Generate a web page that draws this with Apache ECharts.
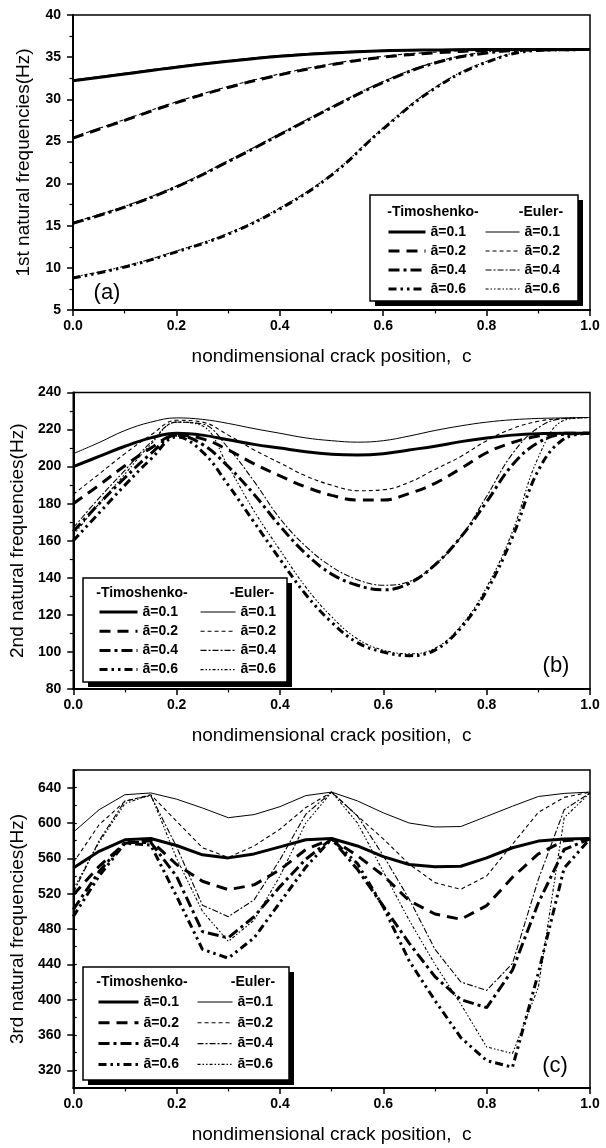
<!DOCTYPE html>
<html>
<head>
<meta charset="utf-8">
<script src="https://cdn.jsdelivr.net/npm/echarts@6/dist/echarts.min.js"></script>
<style>
  html, body { margin: 0; padding: 0; background: #fff; }
  #chart { width: 606px; height: 1148px; }
</style>
</head>
<body>
<div id="chart"></div>
<script>
// crack positions
const posA = [0, 0.1, 0.2, 0.3, 0.4, 0.5, 0.6, 0.7, 0.8, 0.9, 1.0]
const posBC = [0, 0.05, 0.1, 0.15, 0.2, 0.25, 0.3, 0.35, 0.4, 0.45, 0.5,
  0.55, 0.6, 0.65, 0.7, 0.75, 0.8, 0.85, 0.9, 0.95, 1.0]

// (a) 1st natural frequency
const a_T01 = [32.2, 33.0, 33.8, 34.5, 35.1, 35.5, 35.75, 35.85, 35.9, 35.9, 35.9]
const a_T02 = [25.4, 27.5, 29.6, 31.4, 32.9, 34.1, 35.0, 35.5, 35.8, 35.9, 35.9]
const a_T04 = [15.3, 17.2, 19.6, 22.6, 25.8, 29.0, 32.0, 34.3, 35.5, 35.85, 35.9]
const a_T06 = [8.8, 10.1, 11.9, 14.0, 17.0, 21.0, 26.5, 31.3, 34.4, 35.8, 35.9]
const a_E01 = [32.3, 33.1, 33.9, 34.6, 35.2, 35.6, 35.8, 35.9, 35.95, 35.95, 35.95]
const a_E02 = [25.5, 27.6, 29.7, 31.5, 33.0, 34.2, 35.1, 35.6, 35.85, 35.95, 35.95]
const a_E04 = [15.4, 17.3, 19.7, 22.7, 25.9, 29.1, 32.1, 34.4, 35.6, 35.9, 35.95]
const a_E06 = [8.9, 10.2, 12.0, 14.1, 17.1, 21.1, 26.6, 31.4, 34.5, 35.85, 35.95]

// (b) 2nd natural frequency
const b_T01 = [200, 205.5, 211, 215.5, 218, 217, 214.5, 212, 210, 208, 206.7,
  206.3, 207, 209, 211, 213.5, 215.5, 217, 217.8, 218, 218]
const b_T02 = [180, 190, 200.5, 210, 217, 215, 209, 201.5, 195, 189, 184.5,
  182, 182, 185.5, 191, 199, 207.5, 213, 216.5, 218, 218]
const b_T04 = [165, 180, 194, 207, 217, 212, 200, 185, 168, 153, 142,
  136, 133.5, 137, 147, 162, 181, 201, 213, 217.5, 218]
const b_T06 = [160, 175, 190, 204, 216, 208, 190, 170, 150, 131, 116,
  105, 100, 98, 101, 113, 133, 162, 198, 215, 218]
const b_E01 = [207, 213, 219.5, 224, 226.3, 225.5, 223.3, 220.5, 218, 215.5, 214,
  213.2, 214, 216.5, 219.5, 222, 224, 225.3, 226, 226.3, 226.5]
const b_E02 = [185, 196, 207, 217, 225, 224, 217, 209, 202, 195, 190,
  187, 187.5, 191.5, 198.5, 205.5, 214, 220.5, 224.5, 226, 226.5]
const b_E04 = [167, 183, 198, 213, 224, 223, 210, 192, 172, 157, 146,
  139, 136, 138, 147, 162, 184, 207, 221, 226, 226.5]
const b_E06 = [163, 180, 196, 212, 224, 222, 200, 176, 155, 135, 119,
  107, 101, 99, 102, 114, 135, 165, 205, 225, 226.5]

// (c) 3rd natural frequency
const c_T01 = [549, 568, 581, 582.5, 574.5, 564, 560.5, 565, 573, 581, 582.5,
  574, 562, 553, 550.5, 551, 560.5, 572, 579.5, 582, 582.5]
const c_T02 = [518.5, 551, 577, 580, 553, 534, 524.5, 530, 547, 570, 582,
  563, 540.5, 512, 497, 491, 506.5, 538.5, 565, 580, 582]
const c_T04 = [502, 545, 578, 578, 539.5, 477, 470, 494, 528, 559, 582,
  547.5, 506, 464, 426, 400, 391, 433.5, 509.5, 570, 582]
const c_T06 = [494, 540, 577, 575, 517, 457, 447, 470, 510, 550, 582,
  554, 505, 444, 399, 357, 331, 323.5, 430, 549, 582]
const c_E01 = [589.5, 615, 632, 634, 627, 617, 606, 609.5, 618.5, 631, 635,
  625, 611.5, 600, 595.5, 596, 607.5, 619, 630, 633.5, 635]
const c_E02 = [555, 598, 624.5, 632, 602, 572, 561, 574, 593, 617.5, 635,
  608, 582, 553.5, 532.5, 525, 540, 576, 612, 629, 635]
const c_E04 = [521, 580, 625, 631, 573, 507, 494, 513, 558.5, 610, 635,
  608, 563, 514, 457, 420, 410.5, 441, 536, 615, 634]
const c_E06 = [525, 578, 622, 632, 560, 500, 466, 490, 540, 600, 635,
  600, 545, 490, 440, 395, 346.5, 339, 414, 606, 634]

const ratios = ['0.1', '0.2', '0.4', '0.6']
const cMajorTicks = [320, 360, 400, 440, 480, 520, 560, 600, 640]
const yTitles = ['1st natural frequencies(Hz)', '2nd natural frequencies(Hz)', '3rd natural frequencies(Hz)']
const panelTags = ['(a)', '(b)', '(c)']

const FONT = '"Liberation Sans", Arial, sans-serif'

const tStyles = [
  { width: 3, type: 'solid' },
  { width: 3, type: [11, 7] },
  { width: 3, type: [11, 4, 3, 4] },
  { width: 3, type: [8, 4, 2.5, 4, 2.5, 4] }
]
const eStyles = [
  { width: 1, type: 'solid' },
  { width: 1.1, type: [4, 3] },
  { width: 1.1, type: [6, 2, 2, 2] },
  { width: 1.1, type: [3, 2, 1.5, 2, 1.5, 2] }
]

// layout of the three panels
const panels = [
  { top: 15, height: 295, smooth: true, pos: posA,
    T: [a_T01, a_T02, a_T04, a_T06], E: [a_E01, a_E02, a_E04, a_E06],
    box: { x: 370, y: 195, w: 208, h: 106 },
    tLeg: { left: 387, w: 37 }, eLeg: { left: 485, w: 34 },
    headY: 212, tHead: 433, eHead: 541, rowTop: 225, rowGap: 19,
    tag: { x: 107, y: 293 } },
  { top: 392.5, height: 296.5, smooth: true, pos: posBC,
    T: [b_T01, b_T02, b_T04, b_T06], E: [b_E01, b_E02, b_E04, b_E06],
    box: { x: 83, y: 578, w: 204, h: 104 },
    tLeg: { left: 98, w: 38 }, eLeg: { left: 200, w: 35 },
    headY: 593, tHead: 142, eHead: 252, rowTop: 605, rowGap: 19.2,
    tag: { x: 556, y: 666 } },
  { top: 770, height: 318, smooth: false, pos: posBC,
    T: [c_T01, c_T02, c_T04, c_T06], E: [c_E01, c_E02, c_E04, c_E06],
    box: { x: 83, y: 967, w: 206, h: 113 },
    tLeg: { left: 97, w: 40 }, eLeg: { left: 197, w: 35 },
    headY: 982, tHead: 142, eHead: 253, rowTop: 995, rowGap: 20.8,
    tag: { x: 555, y: 1066 } }
]

const pairs = (xs, ys) => xs.map((x, i) => [x, ys[i]])
const sname = (p, kind, r) => `${p}${kind}${r}`

const axisLine = { show: true, onZero: false, lineStyle: { color: '#000', width: 2 } }
const tickLabel = { color: '#000', fontSize: 14, fontWeight: 'bold', fontFamily: FONT }

const grids = []
const xAxes = []
const yAxes = []
const series = []
const legends = []
const graphics = []

panels.forEach((p, i) => {
  grids.push({
    left: 73, right: 16, top: p.top, height: p.height,
    show: true, borderColor: '#000', borderWidth: 1.5, backgroundColor: 'transparent'
  })
  xAxes.push({
    gridIndex: i, type: 'value', min: 0, max: 1, interval: 0.2,
    name: 'nondimensional crack position,  c', nameLocation: 'middle', nameGap: 37,
    nameTextStyle: { color: '#000', fontSize: 19, fontFamily: FONT },
    axisLine,
    axisTick: { show: true, inside: false, length: 6, lineStyle: { color: '#000', width: 1.5 } },
    minorTick: { show: true, splitNumber: 2, length: 3.5, lineStyle: { color: '#000', width: 1.2 } },
    axisLabel: { ...tickLabel, margin: 9, formatter: v => v.toFixed(1) },
    splitLine: { show: false }
  })
  const yName = {
    name: yTitles[i], nameLocation: 'middle', nameGap: 40,
    nameTextStyle: { color: '#000', fontSize: 19, fontFamily: FONT }
  }
  if (i < 2) {
    yAxes.push({
      gridIndex: i, type: 'value',
      min: i === 0 ? 5 : 80, max: i === 0 ? 40 : 240, interval: i === 0 ? 5 : 20,
      ...yName, axisLine,
      axisTick: { show: true, inside: false, length: 6, lineStyle: { color: '#000', width: 1.5 } },
      minorTick: { show: true, splitNumber: 2, length: 3.5, lineStyle: { color: '#000', width: 1.2 } },
      axisLabel: { ...tickLabel, margin: 12 },
      splitLine: { show: false }
    })
  } else {
    yAxes.push({
      gridIndex: i, type: 'value', min: 300, max: 660, interval: 20,
      ...yName, axisLine,
      axisTick: { show: true, inside: false, length: 6, customValues: cMajorTicks,
        lineStyle: { color: '#000', width: 1.5 } },
      axisLabel: { ...tickLabel, margin: 12, customValues: cMajorTicks },
      splitLine: { show: false }
    })
    // minor ticks for panel (c)
    yAxes.push({
      gridIndex: i, type: 'value', min: 300, max: 660, interval: 20,
      axisLine: { show: false },
      axisTick: { show: true, inside: false, length: 3.5, lineStyle: { color: '#000', width: 1.2 } },
      axisLabel: { show: false },
      splitLine: { show: false }
    })
  }

  const tNames = []
  const eNames = []
  ratios.forEach((r, k) => {
    const tn = sname(i, 'T', r)
    const en = sname(i, 'E', r)
    tNames.push(tn)
    eNames.push(en)
    series.push({
      name: tn, type: 'line', xAxisIndex: i, yAxisIndex: i, data: pairs(p.pos, p.T[k]),
      smooth: p.smooth ? 0.4 : false, symbol: 'none', z: 3,
      lineStyle: { color: '#000', ...tStyles[k] }, itemStyle: { color: '#000' }
    })
    series.push({
      name: en, type: 'line', xAxisIndex: i, yAxisIndex: i, data: pairs(p.pos, p.E[k]),
      smooth: p.smooth ? 0.4 : false, symbol: 'none', z: 3,
      lineStyle: { color: '#000', ...eStyles[k] }, itemStyle: { color: '#000' }
    })
  })

  const legendBase = {
    orient: 'vertical', top: p.rowTop, itemHeight: 14, itemGap: p.rowGap - 14,
    padding: 0, selectedMode: false, z: 10,
    itemStyle: { opacity: 0, borderWidth: 0 },
    lineStyle: { width: 'inherit', type: 'inherit', color: '#000' },
    formatter: n => 'ā=' + n.slice(2),
    textStyle: { color: '#000', fontSize: 14, fontWeight: 'bold', fontFamily: FONT }
  }
  legends.push({ ...legendBase, left: p.tLeg.left, itemWidth: p.tLeg.w, data: tNames })
  legends.push({ ...legendBase, left: p.eLeg.left, itemWidth: p.eLeg.w, data: eNames })

  const b = p.box
  graphics.push(
    { type: 'rect', z: 5, shape: { x: b.x + 5, y: b.y + 5, width: b.w, height: b.h }, style: { fill: '#000' } },
    { type: 'rect', z: 6, shape: { x: b.x, y: b.y, width: b.w, height: b.h },
      style: { fill: '#fff', stroke: '#000', lineWidth: 1.5 } },
    { type: 'text', z: 10, x: p.tHead, y: p.headY,
      style: { text: '-Timoshenko-', fill: '#000', fontSize: 14, fontWeight: 'bold', fontFamily: FONT,
        align: 'center', verticalAlign: 'middle' } },
    { type: 'text', z: 10, x: p.eHead, y: p.headY,
      style: { text: '-Euler-', fill: '#000', fontSize: 14, fontWeight: 'bold', fontFamily: FONT,
        align: 'center', verticalAlign: 'middle' } },
    { type: 'text', z: 10, x: p.tag.x, y: p.tag.y,
      style: { text: panelTags[i], fill: '#000', fontSize: 22, fontFamily: FONT,
        align: 'center', verticalAlign: 'middle' } }
  )
})

const chart = echarts.init(document.getElementById('chart'), null, { renderer: 'canvas' })
chart.setOption({
  animation: false,
  backgroundColor: '#fff',
  grid: grids,
  xAxis: xAxes,
  yAxis: yAxes,
  legend: legends,
  graphic: graphics,
  series
})
</script>
</body>
</html>
